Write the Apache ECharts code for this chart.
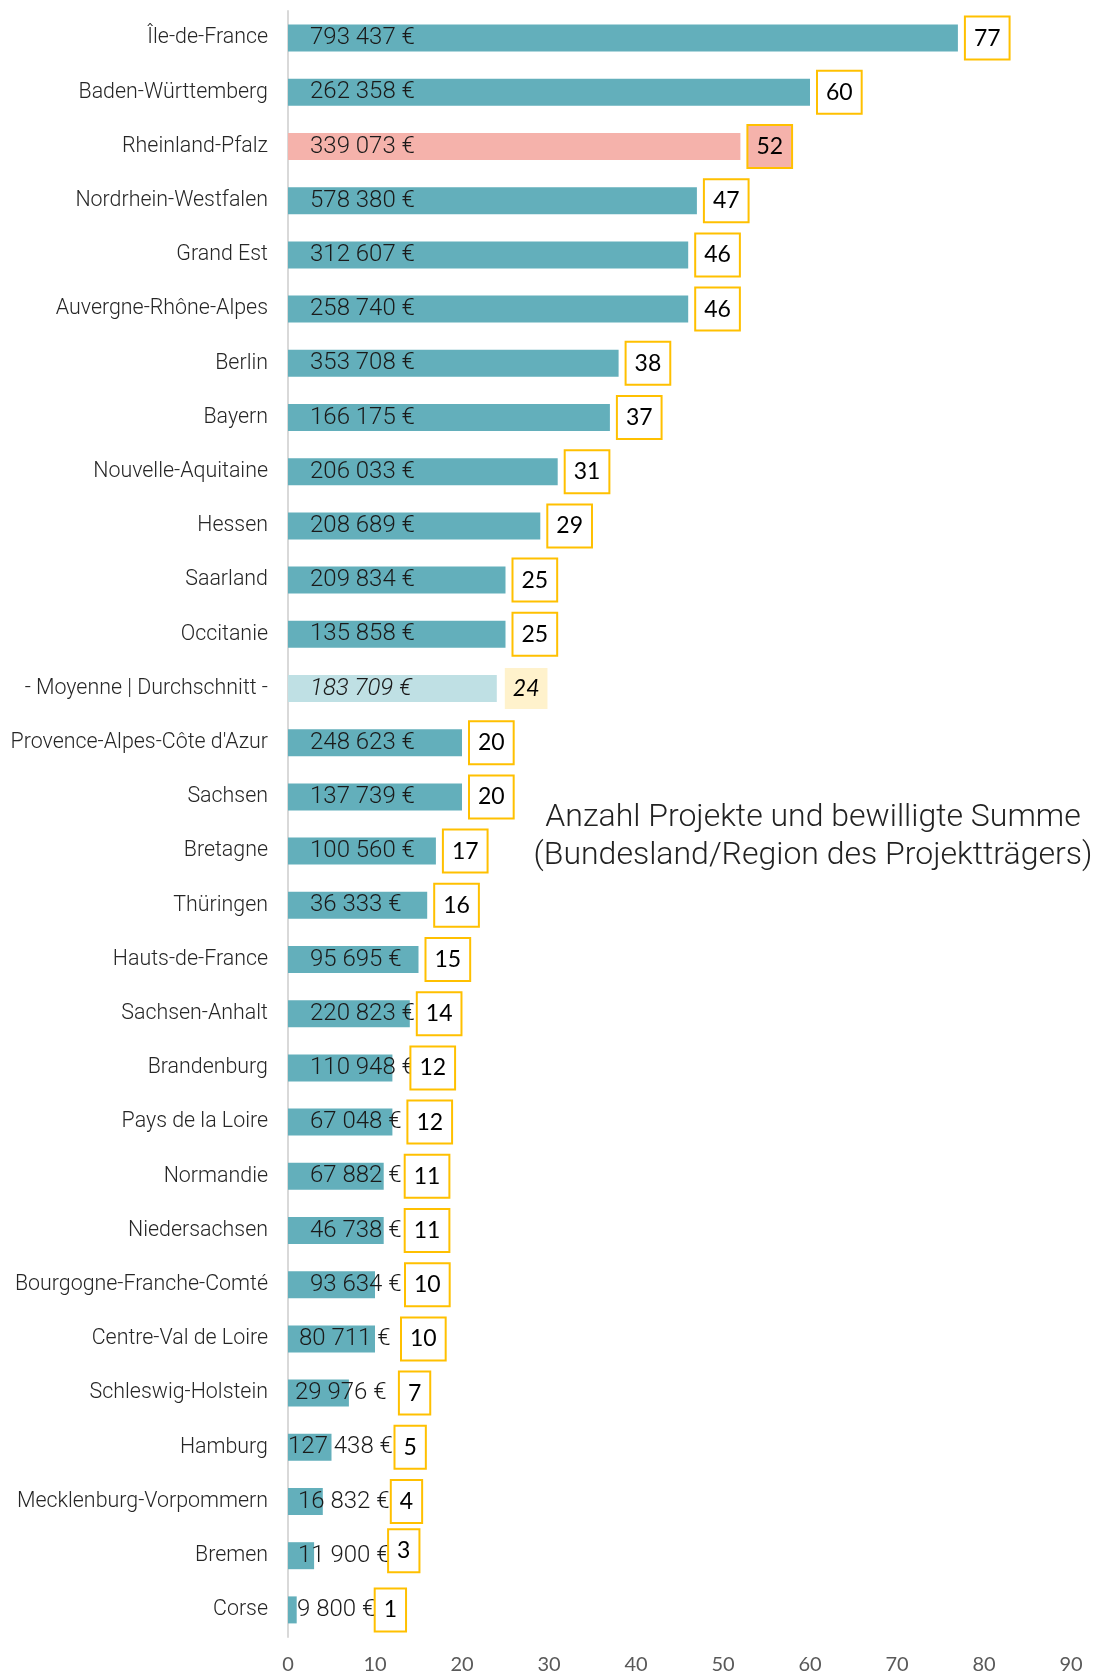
<!DOCTYPE html>
<html><head><meta charset="utf-8">
<script src="https://cdn.jsdelivr.net/npm/echarts@6/dist/echarts.min.js"></script>
<style>html,body{margin:0;padding:0;background:#fff}#c{width:1096px;height:1675px}</style>
</head><body><div id="c"></div>
<script>
const categories = ["Île-de-France","Baden-Württemberg","Rheinland-Pfalz","Nordrhein-Westfalen","Grand Est","Auvergne-Rhône-Alpes","Berlin","Bayern","Nouvelle-Aquitaine","Hessen","Saarland","Occitanie","- Moyenne | Durchschnitt -","Provence-Alpes-Côte d'Azur","Sachsen","Bretagne","Thüringen","Hauts-de-France","Sachsen-Anhalt","Brandenburg","Pays de la Loire","Normandie","Niedersachsen","Bourgogne-Franche-Comté","Centre-Val de Loire","Schleswig-Holstein","Hamburg","Mecklenburg-Vorpommern","Bremen","Corse"];
const projectCounts = [77,60,52,47,46,46,38,37,31,29,25,25,24,20,20,17,16,15,14,12,12,11,11,10,10,7,5,4,3,1];
const amounts = ["793 437 €","262 358 €","339 073 €","578 380 €","312 607 €","258 740 €","353 708 €","166 175 €","206 033 €","208 689 €","209 834 €","135 858 €","183 709 €","248 623 €","137 739 €","100 560 €","36 333 €","95 695 €","220 823 €","110 948 €","67 048 €","67 882 €","46 738 €","93 634 €","80 711 €","29 976 €","127 438 €","16 832 €","11 900 €","9 800 €"];
const xTicks = [0,10,20,30,40,50,60,70,80,90];

const AVG = "- Moyenne | Durchschnitt -";
const HIGHLIGHT = "Rheinland-Pfalz";
// label placement tweaks (style, not data)
const amountDist = {"Centre-Val de Loire":11,"Schleswig-Holstein":7,"Hamburg":0,"Mecklenburg-Vorpommern":10,"Bremen":10,"Corse":9};
const countDist = {"Brandenburg":19,"Pays de la Loire":16,"Normandie":22,"Niedersachsen":22,"Bourgogne-Franche-Comté":31,"Centre-Val de Loire":27,"Schleswig-Holstein":51,"Hamburg":64,"Mecklenburg-Vorpommern":69,"Bremen":75,"Corse":79};
const countShiftY = {"Bremen":-5};

const barData = categories.map((c,i)=>{
  const o = {value: projectCounts[i], label:{distance: amountDist[c]!==undefined?amountDist[c]:22}};
  if (c===AVG){ o.itemStyle={color:'#BFE0E4'}; o.label.fontStyle='italic'; }
  if (c===HIGHLIGHT){ o.itemStyle={color:'#F5B2AB'}; }
  return o;
});
const boxData = categories.map((c,i)=>{
  const o = {value: projectCounts[i], label:{distance: countDist[c]!==undefined?countDist[c]:8, offset:[0, countShiftY[c]||0]}};
  if (c===AVG){ o.label.backgroundColor='#FFF2CC'; o.label.borderWidth=0; o.label.fontStyle='italic'; }
  if (c===HIGHLIGHT){ o.label.backgroundColor='#F5B2AB'; }
  return o;
});

const chart = echarts.init(document.getElementById('c'));
chart.setOption({
  animation:false,
  backgroundColor:'#fff',
  title:{
    text:'Anzahl Projekte und bewilligte Summe\n(Bundesland/Region des Projektträgers)',
    left:808, top:794, textAlign:'center',
    textStyle:{fontFamily:'Roboto', fontWeight:300, fontSize:32, lineHeight:38, color:'#222'}
  },
  grid:{left:288, right:25, top:11, bottom:38, containLabel:false},
  xAxis:{type:'value', min:xTicks[0], max:xTicks[xTicks.length-1], interval:10,
    axisLine:{show:false}, axisTick:{show:false}, splitLine:{show:false},
    axisLabel:{color:'#595959', fontFamily:'Lato', fontSize:20, margin:18}
  },
  yAxis:{type:'category', data:categories, inverse:true,
    axisLine:{show:true, lineStyle:{color:'#D9D9D9', width:2}}, axisTick:{show:false},
    axisLabel:{color:'#262626', fontFamily:'Roboto', fontWeight:300, fontSize:21.4, margin:20}
  },
  series:[
    {type:'bar', data:barData, barWidth:27, itemStyle:{color:'#63AFBB'}, z:2,
     label:{show:true, position:'insideLeft', color:'#1a1a1a', fontFamily:'Roboto', fontWeight:300, fontSize:24,
       formatter:(p)=>amounts[p.dataIndex]}},
    {type:'bar', data:boxData, barWidth:27, barGap:'-100%', itemStyle:{color:'rgba(0,0,0,0)'}, z:3,
     label:{show:true, position:'right', color:'#000', fontFamily:'Lato', fontSize:23,
       backgroundColor:'#fff', borderColor:'#FFC000', borderWidth:2, padding:[6,8,5,8], lineHeight:30,
       formatter:(p)=>String(p.value)}}
  ]
});
</script></body></html>
